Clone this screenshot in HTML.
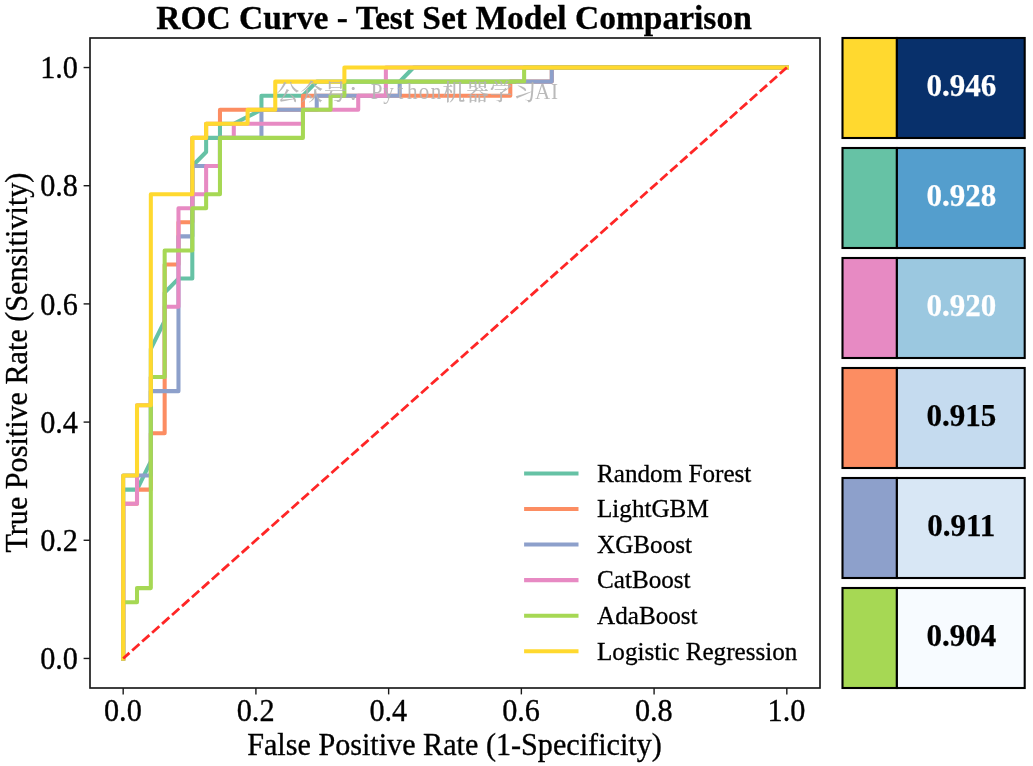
<!DOCTYPE html>
<html lang="en">
<head>
<meta charset="utf-8">
<title>ROC Curve - Test Set Model Comparison</title>
<style>
html,body{margin:0;padding:0;background:#fff;}
body{width:1033px;height:766px;overflow:hidden;font-family:"Liberation Serif","Noto Serif CJK SC",serif;}
svg{display:block;}
</style>
</head>
<body>
<svg width="1033" height="766" viewBox="0 0 1033 766">
<rect x="0" y="0" width="1033" height="766" fill="#ffffff"/>
<g fill="none" stroke-width="4.05" stroke-linejoin="round" stroke-linecap="square">
<path d="M123.18 658.45 L123.18 489.62 L137.01 489.62 L150.83 461.48 L150.83 348.93 L164.66 320.79 L164.66 292.65 L178.48 278.58 L192.31 278.58 L192.31 166.03 L206.13 151.96 L206.13 137.89 L219.96 137.89 L219.96 123.82 L233.79 123.82 L261.44 109.75 L261.44 95.68 L302.92 95.68 L316.74 81.61 L399.70 81.61 L413.52 67.54 L786.82 67.54" stroke="#66c2a5"/>
<path d="M123.18 658.45 L123.18 503.69 L137.01 503.69 L137.01 489.62 L150.83 489.62 L150.83 433.34 L164.66 433.34 L164.66 264.51 L178.48 264.51 L178.48 222.30 L192.31 222.30 L192.31 137.89 L206.13 137.89 L206.13 123.82 L219.96 123.82 L219.96 109.75 L302.92 109.75 L302.92 95.68 L510.30 95.68 L510.30 81.61 L551.78 81.61 L551.78 67.54 L786.82 67.54" stroke="#fc8d62"/>
<path d="M123.18 658.45 L123.18 475.55 L150.83 475.55 L150.83 391.13 L178.48 391.13 L178.48 236.37 L192.31 236.37 L192.31 166.03 L219.96 166.03 L219.96 137.89 L261.44 137.89 L261.44 109.75 L316.74 109.75 L316.74 95.68 L399.70 95.68 L399.70 81.61 L551.78 81.61 L551.78 67.54 L786.82 67.54" stroke="#8da0cb"/>
<path d="M123.18 658.45 L123.18 503.69 L137.01 503.69 L137.01 405.20 L150.83 405.20 L150.83 377.06 L164.66 377.06 L164.66 306.72 L178.48 306.72 L178.48 208.23 L192.31 208.23 L192.31 194.16 L206.13 194.16 L206.13 166.03 L219.96 166.03 L219.96 137.89 L233.79 137.89 L233.79 123.82 L302.92 123.82 L302.92 109.75 L358.22 109.75 L358.22 95.68 L385.87 95.68 L385.87 67.54 L786.82 67.54" stroke="#e78ac3"/>
<path d="M123.18 658.45 L123.18 602.17 L137.01 602.17 L137.01 588.10 L150.83 588.10 L150.83 377.06 L164.66 377.06 L164.66 250.44 L192.31 250.44 L192.31 208.23 L206.13 208.23 L206.13 194.16 L219.96 194.16 L219.96 137.89 L302.92 137.89 L302.92 109.75 L330.57 109.75 L330.57 95.68 L344.39 95.68 L344.39 81.61 L524.13 81.61 L524.13 67.54 L786.82 67.54" stroke="#a6d854"/>
<path d="M123.18 658.45 L123.18 475.55 L137.01 475.55 L137.01 405.20 L150.83 405.20 L150.83 194.16 L192.31 194.16 L192.31 137.89 L206.13 137.89 L206.13 123.82 L247.61 123.82 L247.61 109.75 L275.26 109.75 L275.26 81.61 L344.39 81.61 L344.39 67.54 L786.82 67.54" stroke="#ffd92f"/>
</g>
<path d="M123.18 658.45 L786.82 67.54" fill="none" stroke="#ff2626" stroke-width="2.8" stroke-dasharray="9.7 3.64" stroke-dashoffset="1.3"/>
<rect x="90" y="38" width="730" height="650" fill="none" stroke="#1a1a1a" stroke-width="1.67"/>
<g stroke="#1a1a1a" stroke-width="1.4">
<line x1="123.18" y1="688" x2="123.18" y2="694.4"/>
<line x1="83.6" y1="658.45" x2="90" y2="658.45"/>
<line x1="255.91" y1="688" x2="255.91" y2="694.4"/>
<line x1="83.6" y1="540.27" x2="90" y2="540.27"/>
<line x1="388.64" y1="688" x2="388.64" y2="694.4"/>
<line x1="83.6" y1="422.09" x2="90" y2="422.09"/>
<line x1="521.36" y1="688" x2="521.36" y2="694.4"/>
<line x1="83.6" y1="303.90" x2="90" y2="303.90"/>
<line x1="654.09" y1="688" x2="654.09" y2="694.4"/>
<line x1="83.6" y1="185.72" x2="90" y2="185.72"/>
<line x1="786.82" y1="688" x2="786.82" y2="694.4"/>
<line x1="83.6" y1="67.54" x2="90" y2="67.54"/>
</g>
<g font-family="'Liberation Serif', serif" font-size="31.25" fill="#000" stroke="#000" stroke-width="0.35">
<text x="122.88" y="720.8" text-anchor="middle" textLength="37.8" lengthAdjust="spacingAndGlyphs">0.0</text>
<text x="78.0" y="669.15" text-anchor="end" textLength="37.8" lengthAdjust="spacingAndGlyphs">0.0</text>
<text x="255.61" y="720.8" text-anchor="middle" textLength="37.8" lengthAdjust="spacingAndGlyphs">0.2</text>
<text x="78.0" y="550.97" text-anchor="end" textLength="37.8" lengthAdjust="spacingAndGlyphs">0.2</text>
<text x="388.34" y="720.8" text-anchor="middle" textLength="37.8" lengthAdjust="spacingAndGlyphs">0.4</text>
<text x="78.0" y="432.79" text-anchor="end" textLength="37.8" lengthAdjust="spacingAndGlyphs">0.4</text>
<text x="521.06" y="720.8" text-anchor="middle" textLength="37.8" lengthAdjust="spacingAndGlyphs">0.6</text>
<text x="78.0" y="314.60" text-anchor="end" textLength="37.8" lengthAdjust="spacingAndGlyphs">0.6</text>
<text x="653.79" y="720.8" text-anchor="middle" textLength="37.8" lengthAdjust="spacingAndGlyphs">0.8</text>
<text x="78.0" y="196.42" text-anchor="end" textLength="37.8" lengthAdjust="spacingAndGlyphs">0.8</text>
<text x="786.52" y="720.8" text-anchor="middle" textLength="37.8" lengthAdjust="spacingAndGlyphs">1.0</text>
<text x="78.0" y="78.24" text-anchor="end" textLength="37.8" lengthAdjust="spacingAndGlyphs">1.0</text>
</g>
<text x="247.2" y="754.6" textLength="414.6" lengthAdjust="spacingAndGlyphs" font-family="'Liberation Serif', serif" font-size="31.25" fill="#000" stroke="#000" stroke-width="0.35">False Positive Rate (1-Specificity)</text>
<text transform="translate(27.4 552.6) rotate(-90)" textLength="380" lengthAdjust="spacingAndGlyphs" font-family="'Liberation Serif', serif" font-size="31.25" fill="#000" stroke="#000" stroke-width="0.35">True Positive Rate (Sensitivity)</text>
<text x="454.0" y="28.7" text-anchor="middle" font-family="'Liberation Serif', serif" font-size="33.5" font-weight="bold" fill="#000" stroke="#000" stroke-width="0.3">ROC Curve - Test Set Model Comparison</text>
<g font-family="'Liberation Serif', serif" font-size="25.15" fill="#000">
<line x1="524.1" y1="473.40" x2="578.5" y2="473.40" stroke="#66c2a5" stroke-width="4.05"/>
<text x="597.0" y="481.60" stroke="#000" stroke-width="0.3">Random Forest</text>
<line x1="524.1" y1="508.98" x2="578.5" y2="508.98" stroke="#fc8d62" stroke-width="4.05"/>
<text x="597.0" y="517.18" stroke="#000" stroke-width="0.3">LightGBM</text>
<line x1="524.1" y1="544.56" x2="578.5" y2="544.56" stroke="#8da0cb" stroke-width="4.05"/>
<text x="597.0" y="552.76" stroke="#000" stroke-width="0.3">XGBoost</text>
<line x1="524.1" y1="580.14" x2="578.5" y2="580.14" stroke="#e78ac3" stroke-width="4.05"/>
<text x="597.0" y="588.34" stroke="#000" stroke-width="0.3">CatBoost</text>
<line x1="524.1" y1="615.72" x2="578.5" y2="615.72" stroke="#a6d854" stroke-width="4.05"/>
<text x="597.0" y="623.92" stroke="#000" stroke-width="0.3">AdaBoost</text>
<line x1="524.1" y1="651.30" x2="578.5" y2="651.30" stroke="#ffd92f" stroke-width="4.05"/>
<text x="597.0" y="659.50" stroke="#000" stroke-width="0.3">Logistic Regression</text>
</g>
<g fill="#b4b4b4" fill-opacity="0.92" text-anchor="middle">
<text x="287.85 311.55 335.25 358.95" y="100.4" font-family="'Liberation Serif', 'Noto Serif CJK SC', serif" font-size="22.6" font-weight="500">公众号：</text>
<text transform="scale(0.900 1)" x="418.58 431.75 444.92 458.08 471.25 484.42" y="99.4" font-family="'Liberation Serif', 'Noto Serif CJK SC', serif" font-size="23.4" font-weight="400">Python</text>
<text x="453.75 477.45 501.15 524.85" y="100.4" font-family="'Liberation Serif', 'Noto Serif CJK SC', serif" font-size="22.6" font-weight="500">机器学习</text>
<text transform="scale(0.900 1)" x="602.92 616.08" y="99.4" font-family="'Liberation Serif', 'Noto Serif CJK SC', serif" font-size="23.4" font-weight="400">AI</text>
</g>
<rect x="842.5" y="38.0" width="54.4" height="100" fill="#ffd92f" stroke="#000" stroke-width="2.1"/>
<rect x="896.9" y="38.0" width="127.8" height="100" fill="#08306b" stroke="#000" stroke-width="2.1"/>
<text x="961.3" y="95.8" text-anchor="middle" font-family="'Liberation Serif', serif" font-size="31.0" font-weight="bold" fill="#fff" stroke="#fff" stroke-width="0.25">0.946</text>
<rect x="842.5" y="148.0" width="54.4" height="100" fill="#66c2a5" stroke="#000" stroke-width="2.1"/>
<rect x="896.9" y="148.0" width="127.8" height="100" fill="#549ecd" stroke="#000" stroke-width="2.1"/>
<text x="961.3" y="205.8" text-anchor="middle" font-family="'Liberation Serif', serif" font-size="31.0" font-weight="bold" fill="#fff" stroke="#fff" stroke-width="0.25">0.928</text>
<rect x="842.5" y="258.0" width="54.4" height="100" fill="#e78ac3" stroke="#000" stroke-width="2.1"/>
<rect x="896.9" y="258.0" width="127.8" height="100" fill="#9bc8e0" stroke="#000" stroke-width="2.1"/>
<text x="961.3" y="315.8" text-anchor="middle" font-family="'Liberation Serif', serif" font-size="31.0" font-weight="bold" fill="#fff" stroke="#fff" stroke-width="0.25">0.920</text>
<rect x="842.5" y="368.0" width="54.4" height="100" fill="#fc8d62" stroke="#000" stroke-width="2.1"/>
<rect x="896.9" y="368.0" width="127.8" height="100" fill="#c5dbef" stroke="#000" stroke-width="2.1"/>
<text x="961.3" y="425.8" text-anchor="middle" font-family="'Liberation Serif', serif" font-size="31.0" font-weight="bold" fill="#000" stroke="#000" stroke-width="0.25">0.915</text>
<rect x="842.5" y="478.0" width="54.4" height="100" fill="#8da0cb" stroke="#000" stroke-width="2.1"/>
<rect x="896.9" y="478.0" width="127.8" height="100" fill="#d8e7f5" stroke="#000" stroke-width="2.1"/>
<text x="961.3" y="535.8" text-anchor="middle" font-family="'Liberation Serif', serif" font-size="31.0" font-weight="bold" fill="#000" stroke="#000" stroke-width="0.25">0.911</text>
<rect x="842.5" y="588.0" width="54.4" height="100" fill="#a6d854" stroke="#000" stroke-width="2.1"/>
<rect x="896.9" y="588.0" width="127.8" height="100" fill="#f7fbff" stroke="#000" stroke-width="2.1"/>
<text x="961.3" y="645.8" text-anchor="middle" font-family="'Liberation Serif', serif" font-size="31.0" font-weight="bold" fill="#000" stroke="#000" stroke-width="0.25">0.904</text>
</svg>
</body>
</html>
